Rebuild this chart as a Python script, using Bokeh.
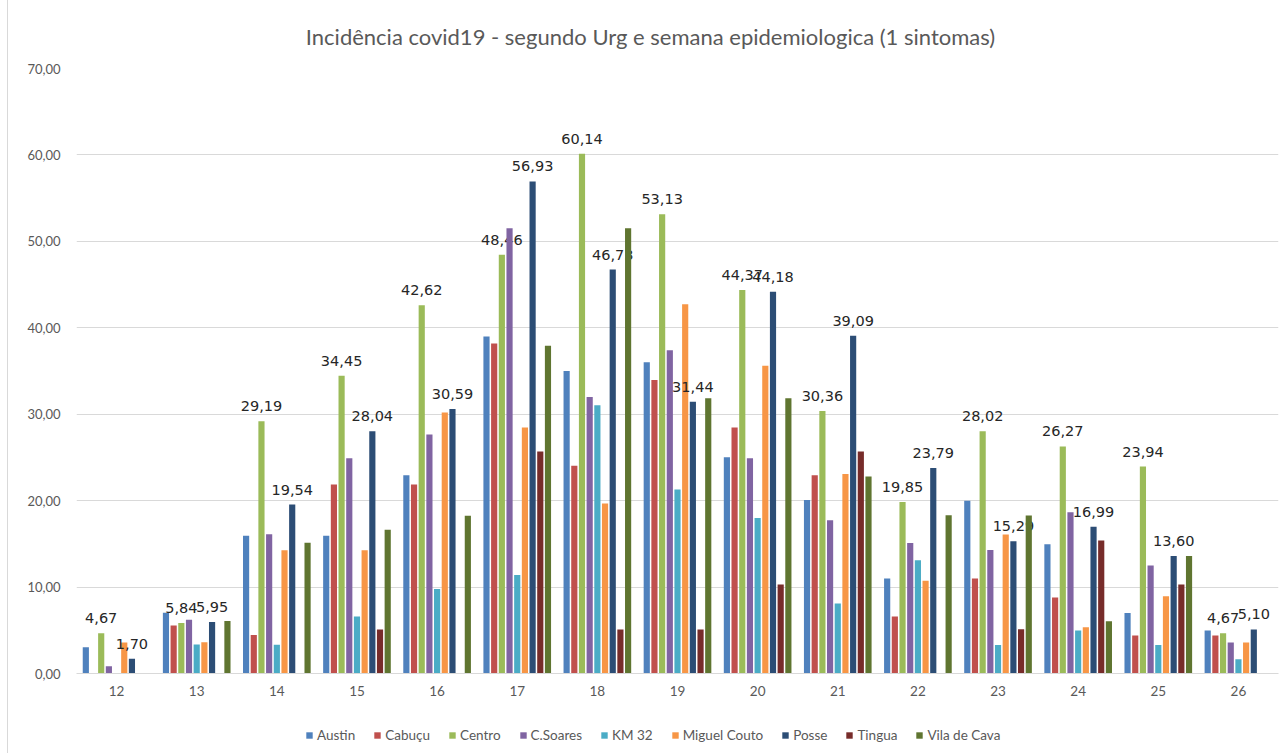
from bokeh.plotting import figure
from bokeh.layouts import column
from bokeh.models import (ColumnDataSource, FactorRange, Range1d, FixedTicker,
                          Legend, LegendItem, Label)
from bokeh.transform import dodge
from bokeh.core.properties import value
from bokeh.embed import file_html
from bokeh.resources import INLINE

weeks = ["12", "13", "14", "15", "16", "17", "18", "19", "20", "21", "22", "23", "24", "25", "26"]

austin       = [3.04, 7.04, 15.94, 15.94, 22.93, 39.00, 35.00, 36.00, 25.03, 20.08, 11.00, 20.00, 14.95, 7.01, 4.97]
cabucu       = [0.00, 5.54, 4.46, 21.86, 21.86, 38.19, 24.05, 33.95, 28.46, 22.93, 6.60, 10.98, 8.79, 4.39, 4.39]
centro       = [4.67, 5.84, 29.19, 34.45, 42.62, 48.46, 60.14, 53.13, 44.37, 30.36, 19.85, 28.02, 26.27, 23.94, 4.67]
csoares      = [0.85, 6.23, 16.10, 24.90, 27.65, 51.52, 32.00, 37.40, 24.90, 17.72, 15.10, 14.30, 18.65, 12.49, 3.58]
km32         = [0.00, 3.35, 3.34, 6.60, 9.77, 11.40, 31.03, 21.30, 18.00, 8.10, 13.10, 3.31, 4.97, 3.31, 1.66]
miguel_couto = [3.58, 3.62, 14.27, 14.27, 30.20, 28.46, 19.67, 42.73, 35.60, 23.09, 10.73, 16.07, 5.36, 8.94, 3.58]
posse        = [1.70, 5.95, 19.54, 28.04, 30.59, 56.93, 46.73, 31.44, 44.18, 39.09, 23.79, 15.29, 16.99, 13.60, 5.10]
tingua       = [0.00, 0.00, 0.00, 5.10, 0.00, 25.70, 5.10, 5.10, 10.30, 25.70, 0.00, 5.13, 15.38, 10.29, 0.00]
vila_de_cava = [0.00, 6.08, 15.13, 16.63, 18.26, 37.93, 51.52, 31.85, 31.85, 22.80, 18.30, 18.27, 6.05, 13.60, 0.00]

series_names = ["Austin", "Cabuçu", "Centro", "C.Soares", "KM 32", "Miguel Couto", "Posse", "Tingua", "Vila de Cava"]
series_values = [austin, cabucu, centro, csoares, km32, miguel_couto, posse, tingua, vila_de_cava]
colors = ["#4F81BD", "#C0504D", "#9BBB59", "#8064A2", "#4BACC6", "#F79646", "#2C4D75", "#772C2A", "#5F7530"]
labelled = ["Centro", "Posse"]

y_ticks = [0, 10, 20, 30, 40, 50, 60, 70]
title_text = "Incidência covid19 - segundo Urg e semana epidemiologica (1 sintomas)"

W = 1277
H_TITLE = 56
H_MAIN = 659
H_LEG = 38

# title strip (frame is aligned with the main plot's frame: page x 76..1278)
t = figure(x_range=Range1d(76, 1278), y_range=Range1d(0, H_TITLE), width=W, height=H_TITLE,
           output_backend="svg", toolbar_location=None,
           x_axis_location=None, y_axis_location=None,
           min_border_left=0, min_border_right=0, min_border_top=0, min_border_bottom=0)
t.outline_line_color = None
t.xgrid.grid_line_color = None
t.ygrid.grid_line_color = None
t.add_layout(Label(x=650, y=H_TITLE - 36, text=title_text, text_align="center",
                   text_baseline="middle", text_font="Lato", text_font_size="22px",
                   text_color="#595959"))

xr = FactorRange(*weeks)
p = figure(x_range=xr, y_range=Range1d(0, 70), width=W, height=H_MAIN,
           output_backend="svg", toolbar_location=None,
           min_border_left=68, min_border_right=7, min_border_top=12, min_border_bottom=42)
p.outline_line_color = None
p.background_fill_color = "white"
p.border_fill_color = "white"

# legend strip (its own small canvas so the legend is not clipped)
q = figure(x_range=xr, y_range=Range1d(1000, 1001), width=W, height=H_LEG,
           output_backend="svg", toolbar_location=None,
           x_axis_location=None, y_axis_location=None,
           min_border_left=0, min_border_right=0, min_border_top=0, min_border_bottom=0)
q.outline_line_color = None
q.xgrid.grid_line_color = None
q.ygrid.grid_line_color = None

slot = 0.0959
bar_w = 0.077
items = []
for i, (name, vals) in enumerate(zip(series_names, series_values)):
    src = ColumnDataSource(dict(week=weeks, v=vals,
                                lbl=[f"{v:.2f}".replace(".", ",") for v in vals]))
    off = (i - 4) * slot
    p.vbar(x=dodge("week", off, range=xr), top="v", width=bar_w, source=src,
           fill_color=colors[i], line_color=None)
    rl = q.vbar(x=dodge("week", off, range=xr), top="v", width=bar_w, source=src,
                fill_color=colors[i], line_color=None)
    items.append(LegendItem(label=name, renderers=[rl]))
    if name in labelled:
        p.text(x=dodge("week", off, range=xr), y="v", text="lbl", source=src,
               text_align="center", text_baseline="alphabetic", y_offset=-15,
               text_font=value("DejaVu Sans"), text_font_size="14.5px", text_color="#262626")

# axes
p.xgrid.grid_line_color = None
p.ygrid.grid_line_color = "#d9d9d9"
p.ygrid.ticker = FixedTicker(ticks=y_ticks)
p.yaxis.ticker = FixedTicker(ticks=y_ticks)
p.yaxis.major_label_overrides = {tk: f"{tk:.2f}".replace(".", ",") for tk in y_ticks}
p.yaxis.axis_line_color = None
p.yaxis.major_tick_line_color = None
p.yaxis.minor_tick_line_color = None
p.yaxis.major_label_standoff = 10
p.yaxis.major_label_text_font = "Lato"
p.yaxis.major_label_text_font_size = "13px"
p.yaxis.major_label_text_color = "#595959"

p.xaxis.axis_line_color = "#d9d9d9"
p.xaxis.major_tick_line_color = None
p.xaxis.minor_tick_line_color = None
p.xaxis.major_label_standoff = 6
p.xaxis.major_label_text_font = "Lato"
p.xaxis.major_label_text_font_size = "13.5px"
p.xaxis.major_label_text_color = "#595959"

legend = Legend(items=items, orientation="horizontal", location=(229, 10),
                glyph_width=8, glyph_height=8, label_standoff=4, spacing=18,
                padding=0, margin=0, border_line_color=None, background_fill_alpha=0,
                label_text_font="Lato", label_text_font_size="13.5px",
                label_text_color="#595959", label_height=16)
q.add_layout(legend)

layout = column(t, p, q, spacing=0,
                styles={"margin-left": "7px", "border-left": "1px solid #d9d9d9"})

open("out.html", "w").write(file_html(layout, INLINE))
